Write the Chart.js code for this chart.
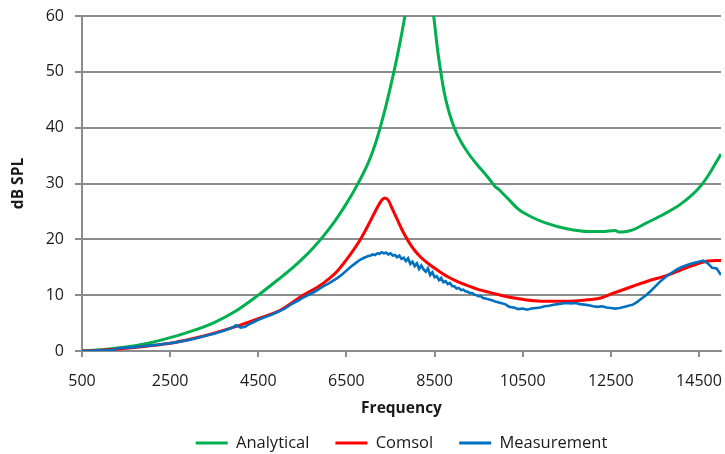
<!DOCTYPE html>
<html>
<head>
<meta charset="utf-8">
<script src="https://cdn.jsdelivr.net/npm/chart.js@4.4.1/dist/chart.umd.min.js"></script>
<style>
  html, body { margin: 0; padding: 0; background: #ffffff; }
  #wrap { width: 725px; height: 454px; }
</style>
</head>
<body>
<div id="wrap"><canvas id="c" width="725" height="454"></canvas></div>
<script>
// ---- data ----
const seriesNames = ["Analytical", "Comsol", "Measurement"];
const xTickValues = [500, 2500, 4500, 6500, 8500, 10500, 12500, 14500];
const yTickValues = [0, 10, 20, 30, 40, 50, 60];

const analyticalFreq = [500, 1000, 1500, 2000, 2500, 3000, 3500, 4000, 4500, 5000, 5250, 5500, 5750, 6000, 6250, 6500, 6750, 7000, 7100, 7200, 7300, 7400, 7500, 7600, 7700, 7800, 7900, 8000, 8150, 8300, 8400, 8480, 8560, 8640, 8720, 8800, 8900, 9000, 9120, 9250, 9400, 9550, 9700, 9800, 9880, 9950, 10050, 10200, 10400, 10700, 11000, 11500, 12000, 12300, 12600, 12680, 12750, 13000, 13300, 13700, 14100, 14500, 14700, 15000];
const analyticalDb = [0, 0.25, 0.7, 1.4, 2.4, 3.6, 5.1, 7.2, 10.0, 13.1, 14.7, 16.5, 18.5, 20.8, 23.4, 26.4, 29.8, 33.8, 35.8, 38.2, 41.0, 44.0, 47.3, 50.8, 54.6, 58.8, 63.5, 70, 85, 72, 64, 60, 54.5, 50, 46.3, 43.6, 41.0, 39.0, 37.2, 35.6, 34.0, 32.6, 31.2, 30.2, 29.4, 29.0, 28.2, 27.0, 25.4, 24.0, 23.0, 21.9, 21.4, 21.4, 21.6, 21.3, 21.3, 21.7, 22.9, 24.5, 26.4, 29.2, 31.3, 35.3];

const comsolFreq = [500, 1000, 1500, 2000, 2500, 3000, 3500, 4000, 4500, 5000, 5500, 5750, 6000, 6290, 6590, 6820, 7045, 7200, 7300, 7370, 7450, 7550, 7650, 7750, 7850, 7950, 8050, 8200, 8400, 8600, 8800, 9000, 9250, 9500, 9750, 10000, 10380, 10760, 11140, 11520, 11890, 12270, 12570, 13000, 13330, 13790, 14320, 14700, 15000];
const comsolDb = [0, 0.2, 0.5, 0.9, 1.4, 2.2, 3.2, 4.4, 5.8, 7.3, 9.9, 11.0, 12.3, 14.3, 17.3, 20.0, 23.3, 25.7, 27.0, 27.4, 27.0, 25.3, 23.6, 21.9, 20.4, 19.1, 18.0, 16.7, 15.4, 14.3, 13.3, 12.5, 11.7, 11.0, 10.5, 10.0, 9.4, 9.0, 8.9, 8.9, 9.1, 9.5, 10.4, 11.6, 12.5, 13.6, 15.2, 16.1, 16.2];

const measurementFreq = [
  500, 600, 700, 800, 900, 1000, 1100, 1200, 1300, 1400, 1500, 1600, 1700, 1800, 1900, 2000, 2100, 2200, 2300, 2400,
  2500, 2600, 2700, 2800, 2900, 3000, 3100, 3200, 3300, 3400, 3500, 3600, 3700, 3800, 3900, 4000, 4100, 4200, 4300, 4400,
  4500, 4600, 4700, 4800, 4900, 5000, 5100, 5200, 5300, 5400, 5500, 5600, 5700, 5800, 5900, 6000, 6100, 6200, 6300, 6400,
  6500, 6600, 6700, 6800, 6900,
  7000, 7050, 7100, 7150, 7200, 7250, 7300, 7350, 7400, 7450, 7500, 7550, 7600, 7650, 7700, 7750, 7800, 7850, 7900, 7950,
  8000, 8050, 8100, 8150, 8200, 8250, 8300, 8350, 8400, 8450, 8500, 8550, 8600, 8650, 8700, 8750, 8800, 8850, 8900, 8950,
  9000, 9050, 9100, 9150, 9200, 9250, 9300, 9350, 9400, 9450, 9500, 9550, 9600,
  9700, 9800, 9900, 10000, 10100, 10200, 10300, 10400, 10500, 10600, 10700, 10800, 10900, 11000, 11100, 11200, 11300, 11400,
  11500, 11600, 11700, 11800, 11900, 12000, 12100, 12200, 12300, 12400, 12500, 12600, 12700, 12800, 12900, 13000, 13100, 13200,
  13300, 13400, 13500, 13600, 13700, 13800, 13900, 14000, 14100, 14200, 14300, 14400, 14500, 14600, 14700, 14800, 14900, 15000];
const measurementDb = [
  0.0, 0.0, 0.05, 0.1, 0.1, 0.1, 0.15, 0.15, 0.5, 0.55, 0.6, 0.65, 0.7, 0.8, 0.85, 0.95, 1.05, 1.1, 1.2, 1.3,
  1.4, 1.5, 1.65, 1.8, 1.95, 2.1, 2.3, 2.5, 2.7, 2.9, 3.1, 3.35, 3.6, 3.85, 4.15, 4.6, 4.2, 4.35, 4.8, 5.2,
  5.6, 5.9, 6.2, 6.5, 6.85, 7.2, 7.6, 8.1, 8.6, 9.0, 9.5, 9.9, 10.3, 10.7, 11.2, 11.7, 12.1, 12.6, 13.1, 13.7,
  14.4, 15.1, 15.7, 16.3, 16.7,
  17.0, 17.1, 17.3, 17.2, 17.5, 17.4, 17.7, 17.5, 17.6, 17.3, 17.5, 17.1, 17.2, 16.8, 17.1, 16.5, 16.7, 16.1, 16.6, 15.6,
  16.0, 15.2, 15.7, 14.7, 15.3, 14.6, 14.2, 14.8, 13.6, 14.1, 13.2, 13.4, 12.7, 13.1, 12.3, 12.5, 12.0, 12.2, 11.6, 11.6,
  11.2, 11.3, 10.9, 11.0, 10.7, 10.6, 10.4, 10.4, 10.1, 10.0, 9.8, 9.8, 9.5,
  9.3, 9.1, 8.8, 8.6, 8.4, 7.9, 7.8, 7.5, 7.6, 7.4, 7.6, 7.7, 7.8, 8.0, 8.1, 8.3, 8.4, 8.5,
  8.6, 8.5, 8.6, 8.4, 8.3, 8.2, 8.0, 7.9, 8.0, 7.8, 7.7, 7.6, 7.7, 7.9, 8.1, 8.3, 8.8, 9.4,
  10.0, 10.7, 11.5, 12.3, 13.0, 13.6, 14.1, 14.6, 15.0, 15.3, 15.6, 15.8, 16.0, 16.2, 15.7, 14.9, 14.8, 13.6];

const seriesColors = ["#00B050", "#FF0000", "#0070C0"];

// ---- build chart ----
function pairs(xs, ys) { return xs.map((x, i) => ({ x: x, y: ys[i] })); }

const FONT = "'Open Sans', Lato, 'Liberation Sans', sans-serif";
const TEXT = "#1a1a1a";
const GRID = "#8c8c8c";
const LEGEND_FONT = 16.5;
const LEGEND_PAD = 26;

// keeps the legend centred under the plot area, at the reference's height
const legendPlace = {
  id: "legendPlace",
  afterLayout(chart) {
    const lg = chart.legend;
    if (!lg) return;
    const ca = chart.chartArea;
    const dx = (ca.left + ca.right) / 2 - (lg.left + lg.right) / 2;
    lg.left += dx; lg.right += dx;
    const dy = 443 - (lg.top + LEGEND_PAD + LEGEND_FONT / 2);
    lg.top += dy; lg.bottom += dy;
  }
};

const chart = new Chart(document.getElementById("c"), {
  type: "line",
  data: {
    datasets: [
      { label: seriesNames[0], data: pairs(analyticalFreq, analyticalDb), borderColor: seriesColors[0], backgroundColor: seriesColors[0], borderWidth: 3, pointRadius: 0, cubicInterpolationMode: "monotone", order: 3 },
      { label: seriesNames[1], data: pairs(comsolFreq, comsolDb), borderColor: seriesColors[1], backgroundColor: seriesColors[1], borderWidth: 3, pointRadius: 0, cubicInterpolationMode: "monotone", order: 2 },
      { label: seriesNames[2], data: pairs(measurementFreq, measurementDb), borderColor: seriesColors[2], backgroundColor: seriesColors[2], borderWidth: 2.6, pointRadius: 0, tension: 0, order: 1 }
    ]
  },
  plugins: [legendPlace],
  options: {
    responsive: false,
    animation: false,
    devicePixelRatio: 1,
    layout: { padding: { left: 0, right: 4, top: 16, bottom: -19.5 } },
    plugins: {
      tooltip: { enabled: false },
      legend: {
        position: "bottom",
        labels: {
          font: { family: FONT, size: LEGEND_FONT },
          color: TEXT,
          boxWidth: 32,
          boxHeight: 3,
          padding: LEGEND_PAD,
          sort: (a, b) => a.datasetIndex - b.datasetIndex,
          generateLabels: (ch) => ch.data.datasets.map((d, i) => ({
            text: d.label, fillStyle: d.borderColor, strokeStyle: d.borderColor,
            lineWidth: 0, hidden: false, datasetIndex: i, fontColor: TEXT
          }))
        }
      }
    },
    scales: {
      x: {
        type: "linear",
        min: 500,
        max: 15000,
        afterBuildTicks: (s) => { s.ticks = xTickValues.map(v => ({ value: v })); },
        afterFit: (s) => { s.height = 70; s.paddingLeft = 0; s.paddingRight = 0; },
        ticks: { font: { family: FONT, size: 16 }, color: TEXT, padding: 15, maxRotation: 0, autoSkip: false, callback: (v) => String(v) },
        grid: { drawOnChartArea: false, drawTicks: true, tickLength: 6, color: GRID, lineWidth: 2 },
        border: { display: true, color: GRID, width: 2 },
        title: { display: true, text: "Frequency", font: { family: FONT, size: 15.5, weight: "bold" }, color: TEXT, padding: { top: 0, bottom: 3 } }
      },
      y: {
        type: "linear",
        min: 0,
        max: 60,
        afterBuildTicks: (s) => { s.ticks = yTickValues.map(v => ({ value: v })); },
        afterFit: (s) => { s.width = 82; s.paddingTop = 0; s.paddingBottom = 0; },
        ticks: { font: { family: FONT, size: 16 }, color: TEXT, padding: 11 },
        grid: { drawOnChartArea: true, drawTicks: true, tickLength: 7, color: GRID, lineWidth: 2 },
        border: { display: true, color: GRID, width: 2 },
        title: { display: true, text: "dB SPL", font: { family: FONT, size: 15.5, weight: "bold" }, color: TEXT, padding: { top: 9, bottom: 0 } }
      }
    }
  }
});
</script>
</body>
</html>
